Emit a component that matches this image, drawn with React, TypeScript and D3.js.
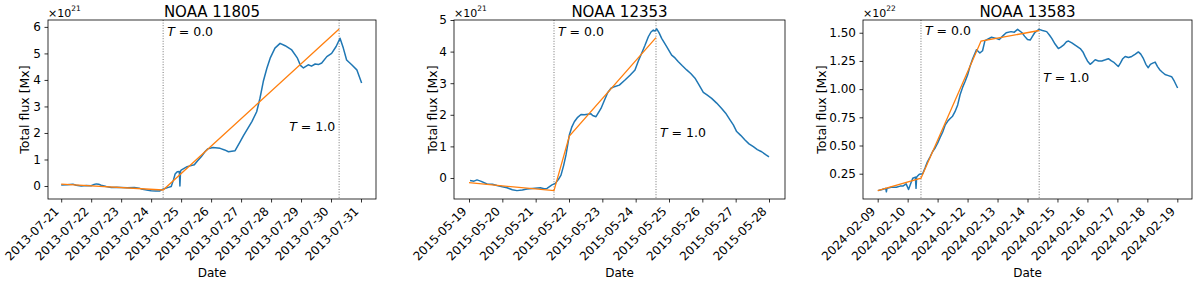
import React, { useRef, useEffect } from "react";
import * as d3 from "d3";

// total unsigned flux, [days since first tick date, value in units of 10^exp Mx]
const flux11805: [number, number][] = [
  [0.0, 0.04], [0.2, 0.05], [0.39, 0.07], [0.5, 0.03], [0.67, 0.0], [0.85, 0.02], [1.0, 0.01],
  [1.1, 0.06], [1.17, 0.08], [1.25, 0.07], [1.33, 0.03], [1.5, -0.02], [1.67, -0.06], [1.85, -0.05],
  [2.0, -0.06], [2.2, -0.07], [2.44, -0.06], [2.6, -0.08], [2.67, -0.11], [2.85, -0.15], [3.0, -0.18],
  [3.15, -0.19], [3.28, -0.19], [3.39, -0.12], [3.55, -0.06], [3.67, -0.02], [3.75, 0.25], [3.8, 0.45],
  [3.87, 0.54], [3.94, 0.55], [3.96, 0.0], [3.98, 0.55], [4.0, 0.6], [4.2, 0.73], [4.44, 0.8],
  [4.55, 0.95], [4.67, 1.1], [4.8, 1.3], [4.89, 1.4], [5.06, 1.45], [5.3, 1.42], [5.45, 1.36],
  [5.58, 1.29], [5.8, 1.33], [5.97, 1.67], [6.08, 1.9], [6.19, 2.11], [6.36, 2.43], [6.52, 2.8],
  [6.63, 3.31], [6.74, 3.94], [6.86, 4.44], [6.97, 4.82], [7.13, 5.2], [7.3, 5.38], [7.47, 5.29],
  [7.69, 5.13], [7.88, 4.82], [7.98, 4.55], [8.08, 4.45], [8.24, 4.57], [8.35, 4.52], [8.47, 4.6],
  [8.58, 4.58], [8.69, 4.64], [8.86, 4.88], [9.02, 5.0], [9.17, 5.26], [9.3, 5.57], [9.41, 5.2],
  [9.52, 4.75], [9.69, 4.57], [9.86, 4.38], [10.02, 3.88],
];
const fit11805: [number, number][] = [[0.0, 0.07], [3.4, -0.15], [9.27, 5.92]];

const flux12353: [number, number][] = [
  [0.03, -0.08], [0.15, -0.1], [0.24, -0.06], [0.35, -0.1], [0.54, -0.19], [0.7, -0.2], [0.84, -0.24],
  [1.0, -0.28], [1.14, -0.31], [1.3, -0.37], [1.44, -0.4], [1.6, -0.38], [1.74, -0.35], [1.9, -0.33],
  [2.14, -0.31], [2.25, -0.34], [2.34, -0.33], [2.49, -0.22], [2.59, -0.17], [2.68, -0.05], [2.76, 0.09],
  [2.84, 0.4], [2.91, 0.73], [3.01, 1.36], [3.08, 1.6], [3.16, 1.78], [3.26, 1.92], [3.36, 2.01],
  [3.46, 2.0], [3.56, 2.02], [3.66, 2.03], [3.71, 1.98], [3.81, 1.94], [3.96, 2.2], [4.06, 2.45],
  [4.16, 2.7], [4.26, 2.84], [4.36, 2.89], [4.51, 2.94], [4.68, 3.1], [4.83, 3.25], [4.98, 3.42],
  [5.08, 3.7], [5.18, 3.95], [5.28, 4.2], [5.38, 4.47], [5.46, 4.62], [5.53, 4.68], [5.58, 4.65],
  [5.63, 4.72], [5.7, 4.6], [5.78, 4.42], [5.93, 4.16], [6.08, 3.89], [6.18, 3.8], [6.28, 3.68],
  [6.4, 3.55], [6.53, 3.42], [6.66, 3.3], [6.78, 3.16], [6.9, 2.95], [7.03, 2.71], [7.15, 2.62],
  [7.28, 2.52], [7.43, 2.37], [7.58, 2.2], [7.7, 2.05], [7.83, 1.84], [7.93, 1.68], [8.03, 1.47],
  [8.15, 1.35], [8.28, 1.2], [8.4, 1.08], [8.53, 0.99], [8.65, 0.9], [8.78, 0.83], [8.9, 0.74],
  [9.0, 0.67],
];
const fit12353: [number, number][] = [[0.0, -0.15], [2.55, -0.4], [3.01, 1.33], [5.61, 4.44]];

const flux13583: [number, number][] = [
  [0.01, 0.1], [0.15, 0.11], [0.27, 0.12], [0.29, 0.09], [0.31, 0.12], [0.45, 0.13], [0.62, 0.13],
  [0.75, 0.14], [0.84, 0.14], [0.95, 0.16], [1.03, 0.11], [1.1, 0.16], [1.17, 0.21], [1.26, 0.22],
  [1.28, 0.12], [1.3, 0.22], [1.39, 0.245], [1.5, 0.25], [1.58, 0.3], [1.66, 0.356], [1.75, 0.4],
  [1.83, 0.445], [1.92, 0.48], [2.0, 0.52], [2.08, 0.57], [2.17, 0.62], [2.25, 0.68], [2.34, 0.717],
  [2.42, 0.74], [2.5, 0.76], [2.58, 0.8], [2.67, 0.86], [2.75, 0.95], [2.84, 1.02], [2.92, 1.07],
  [3.0, 1.125], [3.08, 1.2], [3.17, 1.27], [3.3, 1.35], [3.41, 1.32], [3.5, 1.34], [3.58, 1.43],
  [3.8, 1.46], [3.95, 1.45], [4.06, 1.44], [4.17, 1.47], [4.29, 1.5], [4.45, 1.51], [4.56, 1.505],
  [4.67, 1.53], [4.82, 1.5], [4.9, 1.47], [5.0, 1.44], [5.09, 1.435], [5.17, 1.47], [5.24, 1.5],
  [5.38, 1.53], [5.5, 1.52], [5.64, 1.51], [5.73, 1.48], [5.81, 1.45], [5.92, 1.4], [6.03, 1.36],
  [6.1, 1.37], [6.2, 1.39], [6.3, 1.42], [6.37, 1.426], [6.48, 1.41], [6.59, 1.39], [6.76, 1.36],
  [6.85, 1.33], [6.92, 1.29], [7.0, 1.25], [7.09, 1.22], [7.18, 1.24], [7.26, 1.26], [7.37, 1.25],
  [7.48, 1.25], [7.6, 1.26], [7.7, 1.27], [7.8, 1.25], [7.87, 1.24], [7.95, 1.22], [8.03, 1.2],
  [8.1, 1.23], [8.18, 1.27], [8.26, 1.29], [8.37, 1.28], [8.48, 1.29], [8.6, 1.31], [8.7, 1.33],
  [8.78, 1.31], [8.87, 1.27], [8.95, 1.22], [9.03, 1.19], [9.1, 1.22], [9.18, 1.23], [9.26, 1.24],
  [9.34, 1.2], [9.42, 1.17], [9.5, 1.15], [9.59, 1.13], [9.7, 1.12], [9.81, 1.11], [9.9, 1.07],
  [10.01, 1.01],
];
const fit13583: [number, number][] = [[0.0, 0.1], [1.445, 0.21], [3.45, 1.426], [5.39, 1.52]];

const ticks11805 = [0, 1, 2, 3, 4, 5, 6];
const ticks12353 = [0, 1, 2, 3, 4, 5];
const ticks13583 = [0.25, 0.5, 0.75, 1.0, 1.25, 1.5];

const FONT = "DejaVu Sans";
const TOP = 20;
const BOTTOM = 199;
const DAY_MS = 864e5;

const panels = [
  {
    title: "NOAA 11805", start: "2013-07-21", flux: flux11805, fit: fit11805, t0: 3.4, t1: 9.27,
    exp: "21", left: 48, right: 376, xDomain: [-0.44, 10.5], yDomain: [-0.49, 6.26],
    yTicks: ticks11805, yFmt: d3.format("d"), ylabelX: 29,
    t0LabelY: 5.66, t1LabelY: 2.08, t1Side: "left",
  },
  {
    title: "NOAA 12353", start: "2015-05-19", flux: flux12353, fit: fit12353, t0: 2.55, t1: 5.61,
    exp: "21", left: 454, right: 785, xDomain: [-0.45, 9.48], yDomain: [-0.665, 5.0],
    yTicks: ticks12353, yFmt: d3.format("d"), ylabelX: 437,
    t0LabelY: 4.5, t1LabelY: 1.29, t1Side: "right",
  },
  {
    title: "NOAA 13583", start: "2024-02-09", flux: flux13583, fit: fit13583, t0: 1.445, t1: 5.39,
    exp: "22", left: 863, right: 1192, xDomain: [-0.49, 10.49], yDomain: [0.0257, 1.613],
    yTicks: ticks13583, yFmt: d3.format(".2f"), ylabelX: 826,
    t0LabelY: 1.48, t1LabelY: 1.066, t1Side: "right",
  },
];

function tLabel(g: any, px: number, py: number, value: string, anchor: string) {
  const t = g.append("text").attr("x", px).attr("y", py).attr("font-size", 12.5)
    .attr("text-anchor", anchor);
  t.append("tspan").attr("font-style", "italic").text("T");
  t.append("tspan").text(" = " + value);
}

function drawPanel(svg: any, p: any) {
  const start = new Date(p.start + "T00:00:00Z").getTime();
  const at = (d: number) => new Date(start + d * DAY_MS);

  const x = d3.scaleUtc().domain([at(p.xDomain[0]), at(p.xDomain[1])]).range([p.left, p.right]);
  const y = d3.scaleLinear().domain(p.yDomain).range([BOTTOM, TOP]);

  const g = svg.append("g").attr("font-family", FONT).attr("fill", "#000");

  // x axis with rotated date labels
  const gx = g.append("g").attr("transform", `translate(0,${BOTTOM})`)
    .call(d3.axisBottom(x).ticks(d3.utcDay.every(1)).tickFormat(d3.utcFormat("%Y-%m-%d"))
      .tickSize(3.5).tickSizeOuter(0));
  gx.attr("font-family", FONT).attr("font-size", 12);
  gx.select(".domain").remove();
  gx.selectAll(".tick line").attr("stroke", "#000").attr("stroke-width", 0.8);
  gx.selectAll(".tick text").attr("x", null).attr("y", null).attr("dy", null)
    .attr("fill", "#000").attr("text-anchor", "end")
    .attr("transform", "translate(-2,13) rotate(-45)");

  // y axis
  const gy = g.append("g").attr("transform", `translate(${p.left},0)`)
    .call(d3.axisLeft(y).tickValues(p.yTicks).tickFormat(p.yFmt).tickSize(3.5).tickPadding(3.5));
  gy.attr("font-family", FONT).attr("font-size", 12);
  gy.select(".domain").remove();
  gy.selectAll(".tick line").attr("stroke", "#000").attr("stroke-width", 0.8);
  gy.selectAll(".tick text").attr("fill", "#000");

  // T = 0 and T = 1 markers
  [p.t0, p.t1].forEach((d: number) => {
    g.append("line").attr("x1", x(at(d))).attr("x2", x(at(d))).attr("y1", TOP).attr("y2", BOTTOM)
      .attr("stroke", "#666").attr("stroke-width", 0.9).attr("stroke-dasharray", "1,1.6");
  });

  const line = d3.line<[number, number]>().x(d => x(at(d[0]))).y(d => y(d[1]));

  g.append("path").datum(p.flux).attr("fill", "none").attr("stroke", "#1f77b4")
    .attr("stroke-width", 1.5).attr("stroke-linejoin", "round").attr("d", line);
  g.append("path").datum(p.fit).attr("fill", "none").attr("stroke", "#ff7f0e")
    .attr("stroke-width", 1.3).attr("d", line);

  g.append("rect").attr("x", p.left).attr("y", TOP).attr("width", p.right - p.left)
    .attr("height", BOTTOM - TOP).attr("fill", "none").attr("stroke", "#000").attr("stroke-width", 0.8);

  // annotations
  tLabel(g, x(at(p.t0)) + 4, y(p.t0LabelY), "0.0", "start");
  if (p.t1Side === "left") tLabel(g, x(at(p.t1)) - 4, y(p.t1LabelY), "1.0", "end");
  else tLabel(g, x(at(p.t1)) + 4, y(p.t1LabelY), "1.0", "start");

  // title, offset text, axis labels
  g.append("text").attr("x", (p.left + p.right) / 2).attr("y", 17).attr("text-anchor", "middle")
    .attr("font-size", 15).text(p.title);

  const off = g.append("text").attr("x", p.left).attr("y", 17).attr("font-size", 11);
  off.append("tspan").text("\u00d710");
  off.append("tspan").attr("dy", -6).attr("font-size", 7.5).text(p.exp);

  g.append("text").attr("transform", `translate(${p.ylabelX},${(TOP + BOTTOM) / 2}) rotate(-90)`)
    .attr("text-anchor", "middle").attr("font-size", 12.5).text("Total flux [Mx]");

  g.append("text").attr("x", (p.left + p.right) / 2).attr("y", 277).attr("text-anchor", "middle")
    .attr("font-size", 12).text("Date");
}

export default function App() {
  const ref = useRef<SVGSVGElement>(null);

  useEffect(() => {
    const svg = d3.select(ref.current);
    svg.selectAll("*").remove();
    panels.forEach(p => drawPanel(svg, p));
  }, []);

  return (
    <div style={{ position: "absolute", left: 0, top: 0 }}>
      <svg ref={ref} width={1200} height={285} style={{ display: "block", background: "#fff" }} />
    </div>
  );
}
